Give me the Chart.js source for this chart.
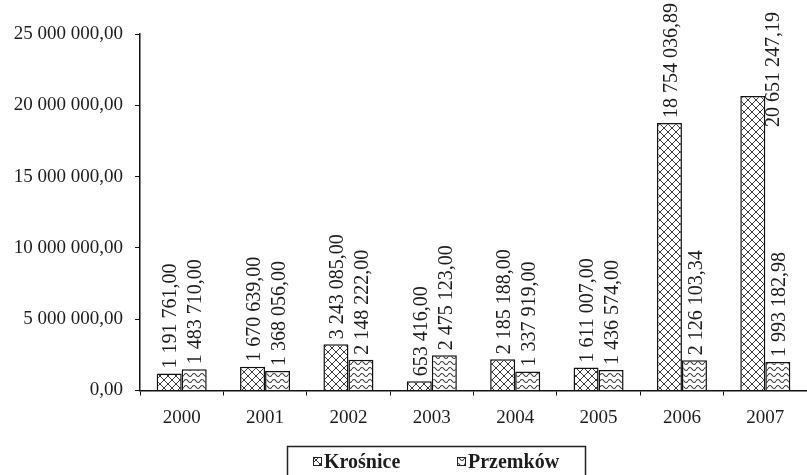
<!DOCTYPE html>
<html>
<head>
<meta charset="utf-8">
<script src="https://cdn.jsdelivr.net/npm/chart.js@4/dist/chart.umd.min.js"></script>
<style>
  html, body { margin: 0; padding: 0; background: #fff; }
  canvas { display: block; }
</style>
</head>
<body>
<canvas id="chart" width="807" height="475"></canvas>
<script>
const years = ['2000', '2001', '2002', '2003', '2004', '2005', '2006', '2007'];
const krosnice = [1191761.00, 1670639.00, 3243085.00, 653416.00, 2185188.00, 1611007.00, 18754036.89, 20651247.19];
const przemkow = [1483710.00, 1368056.00, 2148222.00, 2475123.00, 1337919.00, 1436574.00, 2126103.34, 1993182.98];
const seriesNames = ['Krośnice', 'Przemków'];
const yTicks = [0, 5000000, 10000000, 15000000, 20000000, 25000000];

const FONT = '"Liberation Serif", "Times New Roman", serif';
const INK = '#1c1c1c';

// ================= PATTERNS =================
function crossPattern() {
    const c = document.createElement('canvas');
    c.width = 8; c.height = 8;
    const g = c.getContext('2d');
    g.fillStyle = '#fff';
    g.fillRect(0, 0, 8, 8);
    g.strokeStyle = '#3a3a3a';
    g.lineWidth = 1;
    g.beginPath();
    g.moveTo(0, 0); g.lineTo(8, 8);
    g.moveTo(8, 0); g.lineTo(0, 8);
    g.stroke();
    return g.createPattern(c, 'repeat');
}

function wavePattern() {
    const c = document.createElement('canvas');
    c.width = 8; c.height = 6;
    const g = c.getContext('2d');
    g.fillStyle = '#fff';
    g.fillRect(0, 0, 8, 6);
    g.strokeStyle = '#3a3a3a';
    g.lineWidth = 1.2;
    g.beginPath();
    g.moveTo(0, 3);
    g.quadraticCurveTo(2, 0, 4, 3);
    g.quadraticCurveTo(6, 6, 8, 3);
    g.stroke();
    return g.createPattern(c, 'repeat');
}

const fills = [crossPattern(), wavePattern()];

function fmt(v) {
    const parts = v.toFixed(2).split('.');
    return parts[0].replace(/\B(?=(\d{3})+(?!\d))/g, ' ') + ',' + parts[1];
}

// ================= PLUGINS =================
const valueLabels = {
    id: 'valueLabels',
    afterDatasetsDraw(chart) {
        const ctx = chart.ctx;
        ctx.save();
        ctx.font = '20px ' + FONT;
        ctx.fillStyle = INK;
        ctx.textAlign = 'left';
        ctx.textBaseline = 'middle';
        chart.data.datasets.forEach((ds, i) => {
            chart.getDatasetMeta(i).data.forEach((bar, j) => {
                const text = fmt(ds.data[j]);
                const w = ctx.measureText(text).width;
                let x = bar.x + 2;
                let y = bar.y - 5;
                // label would run off the top: slide it down beside the bar
                if (y - w < 0) {
                    y = 12 + w;
                    x += 19;
                }
                ctx.save();
                ctx.translate(x, y);
                ctx.rotate(-Math.PI / 2);
                ctx.fillText(text, 0, 0);
                ctx.restore();
            });
        });
        ctx.restore();
    }
};

const boxLegend = {
    id: 'boxLegend',
    afterDraw(chart) {
        const ctx = chart.ctx;
        ctx.save();
        ctx.strokeStyle = '#222';
        ctx.lineWidth = 1.5;
        ctx.strokeRect(287.5, 446.5, 298, 40);
        ctx.font = 'bold 20px ' + FONT;
        ctx.fillStyle = INK;
        ctx.textBaseline = 'alphabetic';
        const items = [{ x: 313 }, { x: 457 }];
        items.forEach((it, i) => {
            ctx.fillStyle = fills[i];
            ctx.fillRect(it.x, 457, 9, 9);
            ctx.strokeStyle = '#222';
            ctx.lineWidth = 1;
            ctx.strokeRect(it.x + 0.5, 457.5, 8, 8);
            ctx.fillStyle = INK;
            ctx.fillText(seriesNames[i], it.x + 11, 468);
        });
        ctx.restore();
    }
};

// ================= CHART =================
new Chart(document.getElementById('chart'), {
    type: 'bar',
    data: {
        labels: years,
        datasets: [
            { label: seriesNames[0], data: krosnice, backgroundColor: fills[0], borderColor: '#111', borderWidth: 1.5, borderSkipped: 'bottom' },
            { label: seriesNames[1], data: przemkow, backgroundColor: fills[1], borderColor: '#111', borderWidth: 1.5, borderSkipped: 'bottom' }
        ]
    },
    options: {
        responsive: false,
        animation: false,
        devicePixelRatio: 1,
        layout: { padding: { top: 34, right: 0, bottom: 0, left: 0 } },
        datasets: { bar: { categoryPercentage: 0.6, barPercentage: 1 } },
        plugins: {
            legend: { display: false },
            tooltip: { enabled: false }
        },
        scales: {
            x: {
                grid: { offset: true, drawOnChartArea: false, drawTicks: true, tickLength: 5, color: '#111', lineWidth: 1 },
                border: { display: true, color: '#111', width: 1.5 },
                ticks: { color: INK, font: { family: FONT, size: 19 }, padding: 11, maxRotation: 0 },
                afterFit(scale) { scale.height = 84.5; }
            },
            y: {
                min: 0,
                max: 25000000,
                afterBuildTicks(scale) { scale.ticks = yTicks.map(v => ({ value: v })); },
                grid: { drawOnChartArea: false, drawTicks: true, tickLength: 5, color: '#111', lineWidth: 1 },
                border: { display: true, color: '#111', width: 1.5 },
                ticks: { color: INK, font: { family: FONT, size: 19 }, padding: 12, callback: v => fmt(v) },
                afterFit(scale) { scale.width = 140; }
            }
        }
    },
    plugins: [valueLabels, boxLegend]
});
</script>
</body>
</html>
